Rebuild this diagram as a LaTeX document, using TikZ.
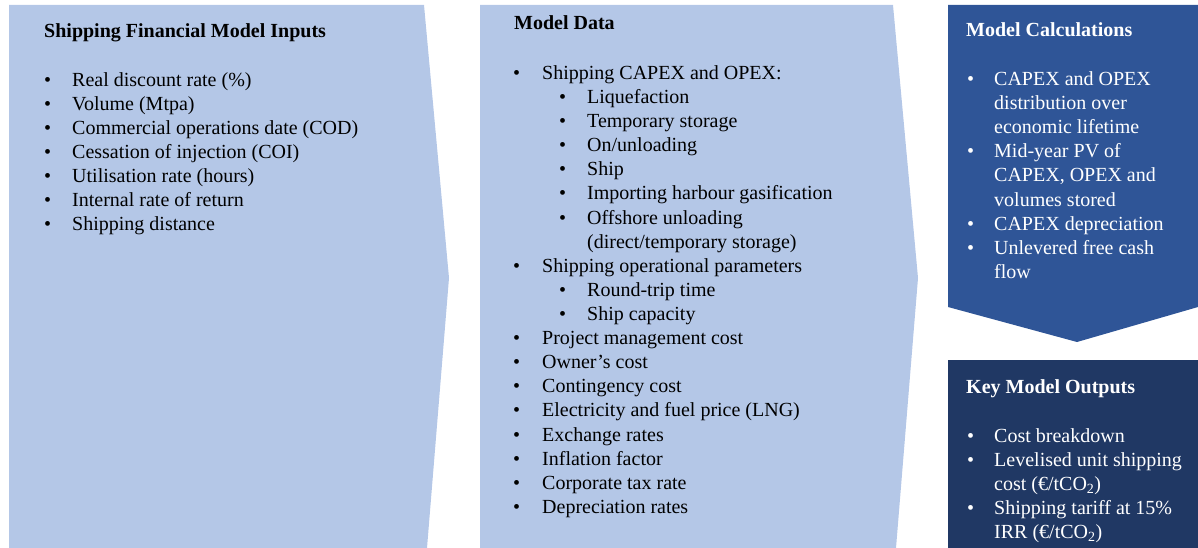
\documentclass[tikz,border=0pt]{standalone}
\usepackage{fontspec}
\setmainfont{Liberation Serif}
\definecolor{paleblue}{HTML}{B4C7E7}
\definecolor{midblue}{HTML}{2F5597}
\definecolor{navyblue}{HTML}{203864}
\begin{document}
\begin{tikzpicture}[x=1pt,y=-1pt,
  txt/.style={anchor=base west,inner sep=0pt,font=\fontsize{20}{24}\selectfont},
  head/.style={txt,font=\fontsize{20}{24}\selectfont\bfseries},
  bul/.style={txt},
  light/.style={fill=paleblue,draw=none},
  calcbox/.style={fill=midblue,draw=none},
  outbox/.style={fill=navyblue,draw=none}]
\useasboundingbox (0,0) rectangle (1198,548);

% chevron panels
\fill[light] (9,5) -- (424,5) -- (449,278) -- (427,548) -- (9,548) -- cycle;
\fill[light] (480,5) -- (893,5) -- (918,278) -- (896,548) -- (480,548) -- cycle;
\fill[calcbox] (948,5) -- (1198,5) -- (1198,307) -- (1077,342) -- (948,307) -- cycle;
\fill[outbox] (948,360) rectangle (1198,548);

% inputs
\node[head] (inhead) at (44,37.5) {Shipping Financial Model Inputs};
\foreach \t [count=\i] in {Real discount rate (\%), Volume (Mtpa),
    Commercial operations date (COD), Cessation of injection (COI),
    Utilisation rate (hours), Internal rate of return, Shipping distance}{
  \node[bul] (ib\i) at (44,{86.5+24*(\i-1)}) {\textbullet};
  \node[txt] (in\i) at (72,{86.5+24*(\i-1)}) {\t};
}

% model data
\node[head] (mdhead) at (514,29.5) {Model Data};
\foreach \lv/\t [count=\i] in {1/{Shipping CAPEX and OPEX:}, 2/Liquefaction,
    2/{Temporary storage}, 2/{On/unloading}, 2/Ship,
    2/{Importing harbour gasification}, 2/{Offshore unloading},
    3/{(direct/temporary storage)}, 1/{Shipping operational parameters},
    2/{Round-trip time}, 2/{Ship capacity}, 1/{Project management cost},
    1/{Owner’s cost}, 1/{Contingency cost}, 1/{Electricity and fuel price (LNG)},
    1/{Exchange rates}, 1/{Inflation factor}, 1/{Corporate tax rate},
    1/{Depreciation rates}}{
  \pgfmathsetmacro\yy{79.5+24.1*(\i-1)}
  \ifnum\lv=1
    \node[bul] (mb\i) at (513,\yy) {\textbullet};
    \node[txt] (md\i) at (542,\yy) {\t};
  \else\ifnum\lv=2
    \node[bul] (mb\i) at (559,\yy) {\textbullet};
    \node[txt] (md\i) at (587,\yy) {\t};
  \else
    \node[txt] (md\i) at (587,\yy) {\t};
  \fi\fi
}

% model calculations
\begin{scope}[every node/.append style={text=white}]
\node[head] (mchead) at (966,36.5) {Model Calculations};
\foreach \b/\t [count=\i] in {1/{CAPEX and OPEX}, 0/{distribution over},
    0/{economic lifetime}, 1/{Mid-year PV of}, 0/{CAPEX, OPEX and},
    0/{volumes stored}, 1/{CAPEX depreciation}, 1/{Unlevered free cash},
    0/flow}{
  \pgfmathsetmacro\yy{85.5+24.1*(\i-1)}
  \ifnum\b=1
    \node[bul] (cb\i) at (967,\yy) {\textbullet};
  \fi
  \node[txt] (mc\i) at (994,\yy) {\t};
}

% key outputs
\node[head] (kohead) at (966,393) {Key Model Outputs};
\foreach \b/\t [count=\i] in {1/{Cost breakdown}, 1/{Levelised unit shipping},
    0/{cost (€/tCO\textsubscript{2})}, 1/{Shipping tariff at 15\%},
    0/{IRR (€/tCO\textsubscript{2})}}{
  \pgfmathsetmacro\yy{442+24.2*(\i-1)}
  \ifnum\b=1
    \node[bul] (ob\i) at (967,\yy) {\textbullet};
  \fi
  \node[txt] (ko\i) at (994,\yy) {\t};
}
\end{scope}
\end{tikzpicture}
\end{document}
